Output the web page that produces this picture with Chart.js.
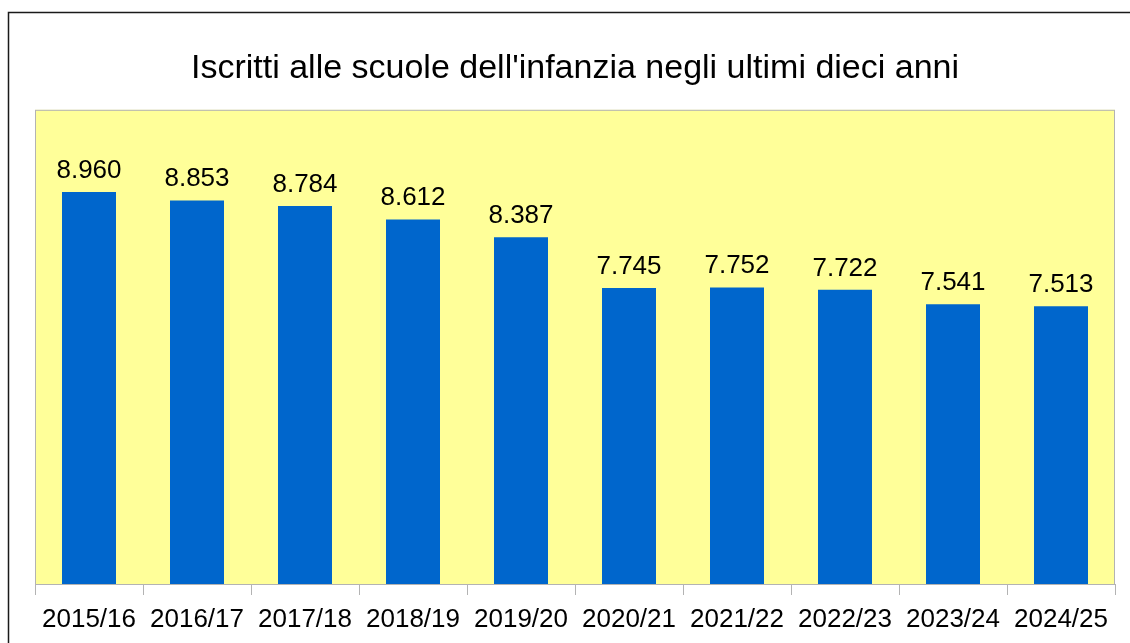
<!DOCTYPE html>
<html>
<head>
<meta charset="utf-8">
<script src="https://cdn.jsdelivr.net/npm/chart.js@4"></script>
<style>
  html, body { margin: 0; padding: 0; background: #fff; }
  #wrap { width: 1130px; height: 643px; }
</style>
</head>
<body>
<div id="wrap"><canvas id="bar-chart" width="1130" height="643"></canvas></div>
<script>
const anni = ["2015/16", "2016/17", "2017/18", "2018/19", "2019/20", "2020/21", "2021/22", "2022/23", "2023/24", "2024/25"];
const iscritti = [8960, 8853, 8784, 8612, 8387, 7745, 7752, 7722, 7541, 7513];

// fondo giallo, bordo area e cornice esterna
const sfondo = {
  id: "sfondo",
  beforeDraw(chart) {
    const c = chart.ctx, a = chart.chartArea;
    c.save();
    c.fillStyle = "#ffff99";
    c.fillRect(a.left, a.top, a.right - a.left, a.bottom - a.top);
    c.strokeStyle = "#b3b3b3";
    c.lineWidth = 1;
    c.strokeRect(a.left + 0.5, a.top + 0.5, a.right - a.left - 1, a.bottom - a.top);
    c.strokeStyle = "#1a1a1a";
    c.lineWidth = 1.5;
    c.strokeRect(8.5, 12.5, 3000, 3000);
    c.restore();
  }
};

// etichette sopra le barre
const etichette = {
  id: "etichette",
  afterDatasetsDraw(chart) {
    const c = chart.ctx;
    const meta = chart.getDatasetMeta(0);
    c.save();
    c.font = "26px 'Liberation Sans', Arial, sans-serif";
    c.fillStyle = "#000";
    c.textAlign = "center";
    c.textBaseline = "alphabetic";
    meta.data.forEach((bar, i) => {
      const txt = iscritti[i].toLocaleString("it-IT");
      c.fillText(txt, bar.x, bar.y - 14);
    });
    c.restore();
  }
};

const ctx_bar = document.getElementById("bar-chart").getContext("2d");
const myChart_bar = new Chart(ctx_bar, {
  type: "bar",
  data: {
    labels: anni,
    datasets: [{
      label: "Iscritti",
      data: iscritti,
      backgroundColor: "#0066cc",
      barPercentage: 0.5,
      categoryPercentage: 1.0
    }]
  },
  options: {
    responsive: false,
    animation: false,
    layout: { padding: { top: 0, left: 35, right: 15, bottom: 0 } },
    plugins: {
      legend: { display: false },
      tooltip: { enabled: false },
      title: {
        display: true,
        text: "Iscritti alle scuole dell'infanzia negli ultimi dieci anni",
        color: "#000",
        font: { family: "'Liberation Sans', Arial, sans-serif", size: 34, weight: "normal" },
        padding: { top: 48, bottom: 21 }
      }
    },
    scales: {
      y: { display: false, min: 4000, max: 10000 },
      x: {
        afterFit(scale) { scale.height = 59; },
        border: { color: "#b3b3b3" },
        grid: { offset: true, drawOnChartArea: false, tickLength: 11, color: "#b3b3b3" },
        ticks: {
          color: "#000",
          padding: 9,
          maxRotation: 0,
          font: { family: "'Liberation Sans', Arial, sans-serif", size: 26 }
        }
      }
    }
  },
  plugins: [sfondo, etichette]
});
</script>
</body>
</html>
